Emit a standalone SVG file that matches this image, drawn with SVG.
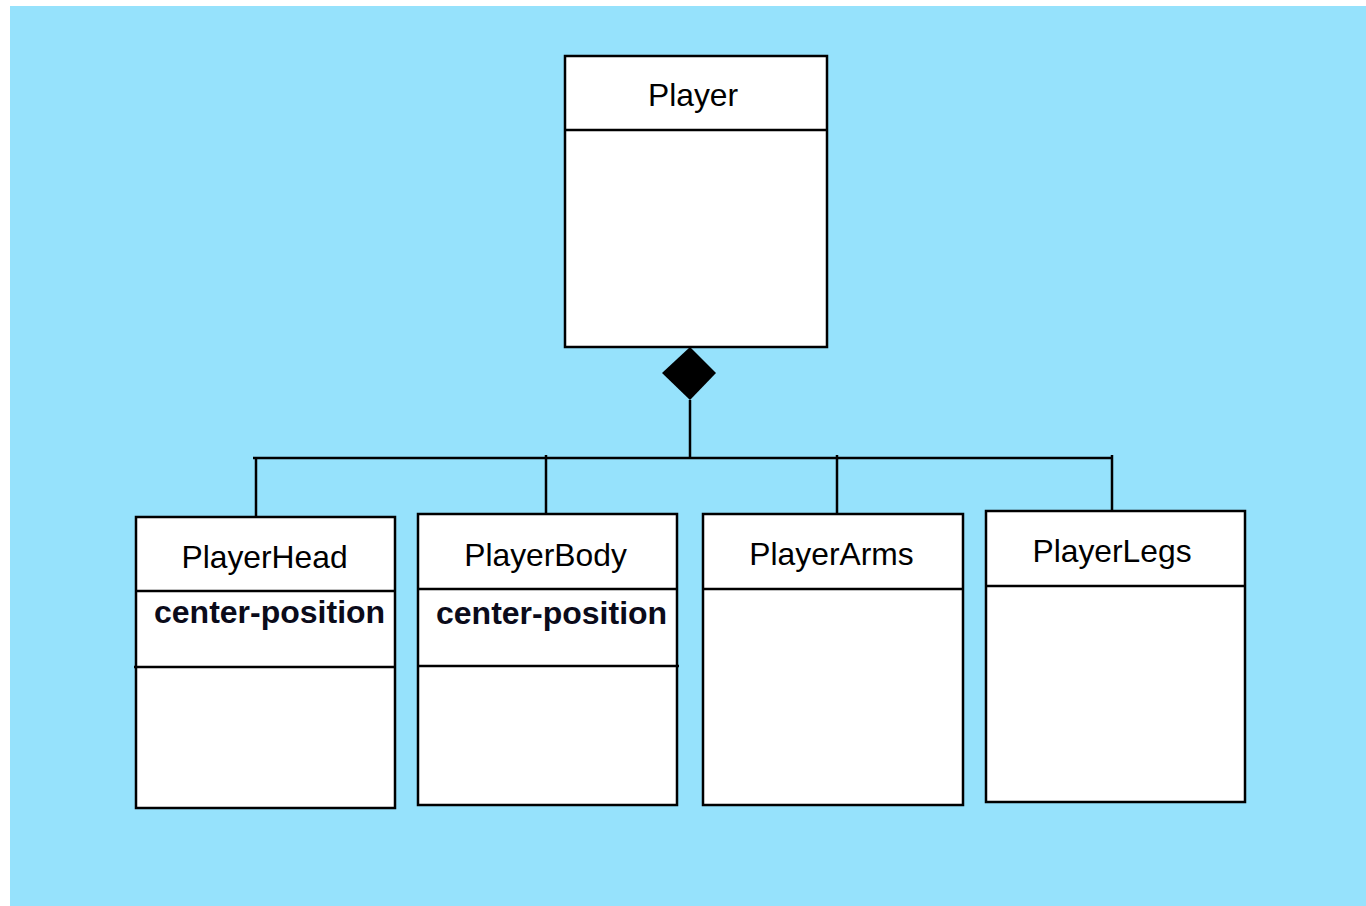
<svg xmlns="http://www.w3.org/2000/svg" width="1366" height="906" viewBox="0 0 1366 906">
<style>
.box{fill:#fff;stroke:#000;stroke-width:2.5}
.div{stroke:#000;stroke-width:2.5}
.name{font-family:"Liberation Sans",Arial,sans-serif;font-size:31.8px;fill:#000;text-anchor:middle}
.attr{font-family:"Liberation Sans",Arial,sans-serif;font-size:32px;font-weight:bold;fill:#0b0b1a}
.conn{stroke:#000;stroke-width:2.5;fill:none}
</style>
<rect x="0" y="0" width="1366" height="906" fill="#fff"/>
<rect x="10" y="6" width="1356" height="900" fill="#96E2FC"/>
<g id="connectors">
<polygon points="690,347 716,373 690,400 662,373" fill="#000"/>
<line class="conn" x1="690" y1="400" x2="690" y2="458"/>
<line class="conn" x1="253" y1="458" x2="1112" y2="458"/>
<line class="conn" x1="256" y1="458" x2="256" y2="517"/>
<line class="conn" x1="546" y1="455" x2="546" y2="517"/>
<line class="conn" x1="837" y1="455" x2="837" y2="514"/>
<line class="conn" x1="1112" y1="455" x2="1112" y2="515"/>
</g>
<g id="Player">
<rect class="box" x="565" y="56" width="262" height="291"/>
<line class="div" x1="565" y1="130" x2="827" y2="130"/>
<text class="name" x="693" y="106">Player</text>
</g>
<g id="PlayerHead">
<rect class="box" x="136" y="517" width="259" height="291"/>
<line class="div" x1="136" y1="591" x2="395" y2="591"/>
<line class="div" x1="134" y1="667" x2="395" y2="667"/>
<text class="name" x="264.5" y="568">PlayerHead</text>
<text class="attr" x="154" y="623">center-position</text>
</g>
<g id="PlayerBody">
<rect class="box" x="418" y="514" width="259" height="291"/>
<line class="div" x1="418" y1="589" x2="677" y2="589"/>
<line class="div" x1="418" y1="666" x2="679" y2="666"/>
<text class="name" x="545.5" y="566">PlayerBody</text>
<text class="attr" x="436" y="624">center-position</text>
</g>
<g id="PlayerArms">
<rect class="box" x="703" y="514" width="260" height="291"/>
<line class="div" x1="703" y1="589" x2="963" y2="589"/>
<text class="name" x="831.5" y="565">PlayerArms</text>
</g>
<g id="PlayerLegs">
<rect class="box" x="986" y="511" width="259" height="291"/>
<line class="div" x1="986" y1="586" x2="1245" y2="586"/>
<text class="name" x="1112" y="562">PlayerLegs</text>
</g>
</svg>
